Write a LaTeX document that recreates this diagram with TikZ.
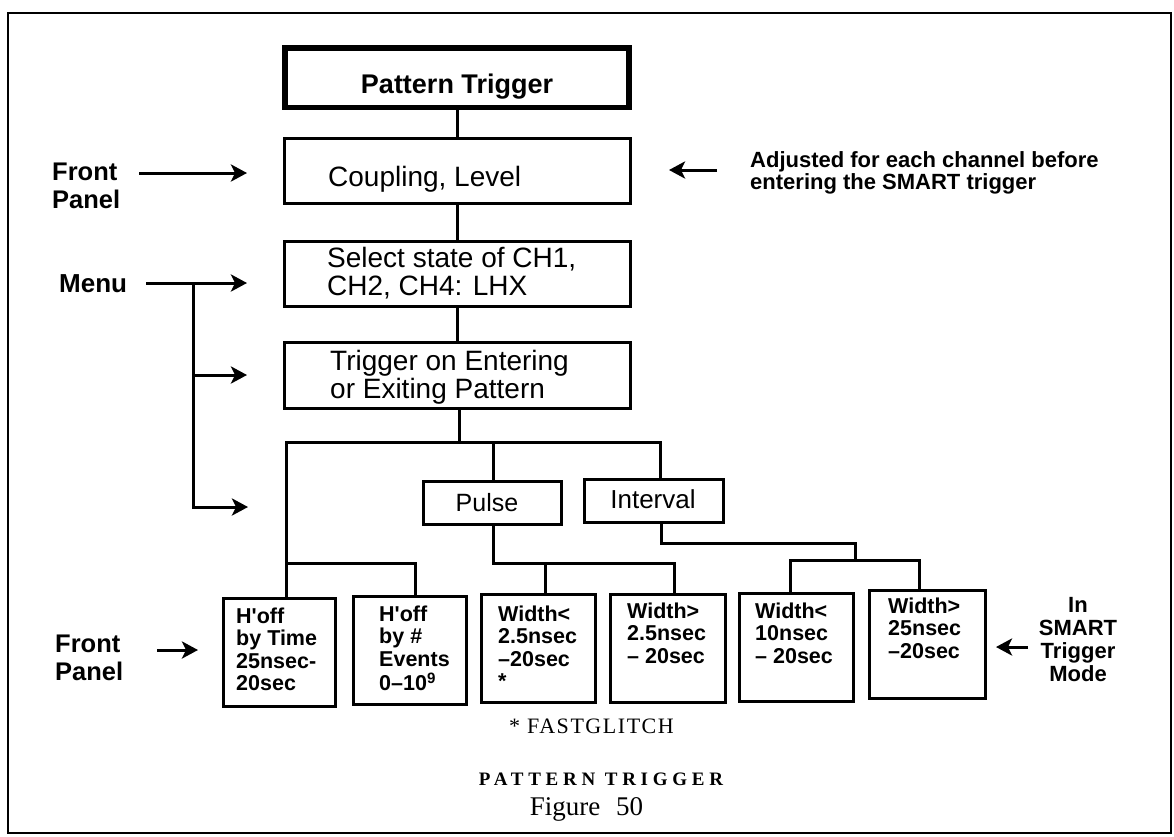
\documentclass[tikz,border=0pt]{standalone}
\usepackage{fontspec}
\setmainfont{Liberation Sans}
\newfontfamily\capserif{Liberation Serif}
\newfontfamily\capserifls[LetterSpace=7]{Liberation Serif}
\newfontfamily\capseriflsb[LetterSpace=25]{Liberation Serif}
\usetikzlibrary{arrows.meta}
\newcommand{\myL}[1]{\begin{tabular}[t]{@{}l@{}}#1\end{tabular}}
\newcommand{\myC}[1]{\begin{tabular}[t]{@{}c@{}}#1\end{tabular}}
\newcommand{\fsz}[2]{\fontsize{#1}{#2}\selectfont}
\begin{document}
\begin{tikzpicture}[x=1pt,y=-1pt,
  box/.style={draw, line width=3pt, inner sep=0pt, anchor=center},
  conn/.style={line width=3pt},
  arr/.style={line width=3pt, -{Stealth[length=16pt,width=17pt,inset=4pt]}},
  txt/.style={anchor=base west, inner sep=0pt},
  mainfs/.style={font=\fsz{28}{28}},
  smallb/.style={font=\bfseries\fsz{21.5}{22.5}},
  lbl/.style={font=\bfseries\fsz{25.5}{28}}]
\useasboundingbox (0,0) rectangle (1174,836);
\draw[line width=2.8pt] (8,13) rectangle (1171,833);

% boxes
\node[box, line width=5.5pt, minimum width=344pt, minimum height=59.5pt] (pt) at (457,77.5) {};
\node[box, minimum width=346pt, minimum height=65pt] (cl) at (457.5,171) {};
\node[box, minimum width=346pt, minimum height=65pt] (ss) at (457.5,274) {};
\node[box, minimum width=346pt, minimum height=66pt] (te) at (457.5,375.5) {};
\node[box, minimum width=138pt, minimum height=43pt] (pu) at (492.5,503) {};
\node[box, minimum width=139pt, minimum height=43pt] (iv) at (654,501) {};
\node[box, minimum width=112pt, minimum height=108pt] (b1) at (279.5,652.5) {};
\node[box, minimum width=113pt, minimum height=108pt] (b2) at (410,650.5) {};
\node[box, minimum width=114pt, minimum height=108pt] (b3) at (538.5,648.5) {};
\node[box, minimum width=115pt, minimum height=108pt] (b4) at (668,648.5) {};
\node[box, minimum width=114pt, minimum height=108pt] (b5) at (796.5,647.5) {};
\node[box, minimum width=116pt, minimum height=108pt] (b6) at (927.5,644.5) {};

% box texts
\node[inner sep=0pt, anchor=base, font=\bfseries\fsz{27}{30}] (ptt) at (457,93) {Pattern Trigger};
\node[txt, mainfs] (clt) at (328,186) {Coupling, Level};
\node[txt, mainfs] (sst) at (327,267) {\myL{Select state of CH1,\\CH2, CH4: LHX}};
\node[txt, mainfs] (tet) at (330,370) {\myL{Trigger on Entering\\or Exiting Pattern}};
\node[inner sep=0pt, anchor=base, font=\fsz{25}{28}] (put) at (487,511) {Pulse};
\node[inner sep=0pt, anchor=base, font=\fsz{26}{28}] (ivt) at (653,508) {Interval};
\node[txt, smallb] (b1t) at (236,623) {\myL{H\textquotesingle off\\by Time\\25nsec-\\20sec}};
\node[txt, smallb] (b2t) at (379,621) {\myL{H\textquotesingle off\\by \#\\Events\\0–10\textsuperscript{9}}};
\node[txt, smallb] (b3t) at (498,621) {\myL{Width<\\2.5nsec\\–20sec\\{*}}};
\node[txt, smallb] (b4t) at (627,618) {\myL{Width>\\2.5nsec\\– 20sec}};
\node[txt, smallb] (b5t) at (755,618) {\myL{Width<\\10nsec\\– 20sec}};
\node[txt, smallb] (b6t) at (888,613) {\myL{Width>\\25nsec\\–20sec}};

% side labels
\node[txt, lbl] (fp1) at (52,180) {\myL{Front\\Panel}};
\node[txt, font=\bfseries\fsz{26}{28}] (menu) at (59,292) {Menu};
\node[txt, lbl] (fp2) at (55,652) {\myL{Front\\Panel}};
\node[txt, font=\bfseries\fsz{22}{22}] (adj) at (750,167) {\myL{Adjusted for each channel before\\entering the SMART trigger}};
\node[inner sep=0pt, anchor=base, font=\bfseries\fsz{22}{23.3}] (smart) at (1078,612) {\myC{In\\SMART\\Trigger\\Mode}};

% caption
\node[inner sep=0pt, anchor=base, font=\capserifls\fsz{22}{24}] (fg) at (591.5,733) {* FASTGLITCH};
\node[inner sep=0pt, anchor=base, font=\capseriflsb\bfseries\fsz{19}{21}] (pat) at (601,785) {PATTERN TRIGGER};
\node[inner sep=0pt, anchor=base, font=\capserif\fsz{27}{30}] (fig) at (586.5,815) {Figure\hspace{16pt}50};

% main chain
\draw[conn] (pt.south) -- (pt.south |- cl.north);
\draw[conn] (cl.south) -- (cl.south |- ss.north);
\draw[conn] (ss.south) -- (ss.south |- te.north);
\coordinate (bc) at (459,442);
\coordinate (bl) at (286,442);
\coordinate (br) at (660,442);
\coordinate (pc) at (493,442);
\draw[conn] (te.south -| bc) -- (bc);
\draw[conn] (b1.north -| bl) -- (bl) -- (br) -- (iv.north -| br);
\draw[conn] (pc) -- (pu.north -| pc);
\coordinate (hb) at (415,563);
\draw[conn] (hb -| bl) -- (hb) -- (b2.north -| hb);
\coordinate (p1) at (493,563);
\coordinate (p2) at (674,563);
\coordinate (p3) at (545,563);
\draw[conn] (pu.south -| p1) -- (p1) -- (p2) -- (b4.north -| p2);
\draw[conn] (p3) -- (b3.north -| p3);
\coordinate (i1) at (661,543);
\coordinate (i2) at (855,543);
\coordinate (i3) at (855,560);
\coordinate (i4) at (790,560);
\coordinate (i5) at (919,560);
\draw[conn] (iv.south -| i1) -- (i1) -- (i2) -- (i3);
\draw[conn] (b5.north -| i4) -- (i4) -- (i5) -- (b6.north -| i5);

% arrows
\coordinate (a1s) at (139,173);
\coordinate (a1e) at (247,173);
\draw[arr] (a1s) -- (a1e);
\coordinate (m0) at (146,283);
\coordinate (mj) at (193,283);
\coordinate (m1) at (247,283);
\coordinate (m2) at (247,375);
\coordinate (m3) at (248,507);
\draw[arr] (m0) -- (m1);
\draw[arr] (mj) |- (m3);
\draw[arr] (mj |- m2) -- (m2);
\coordinate (r1s) at (717,170);
\coordinate (r1e) at (669,170);
\draw[arr] (r1s) -- (r1e);
\coordinate (f2s) at (157,650);
\coordinate (f2e) at (198,650);
\draw[arr] (f2s) -- (f2e);
\coordinate (s1s) at (1028,647);
\coordinate (s1e) at (996,647);
\draw[arr] (s1s) -- (s1e);
\end{tikzpicture}
\end{document}
